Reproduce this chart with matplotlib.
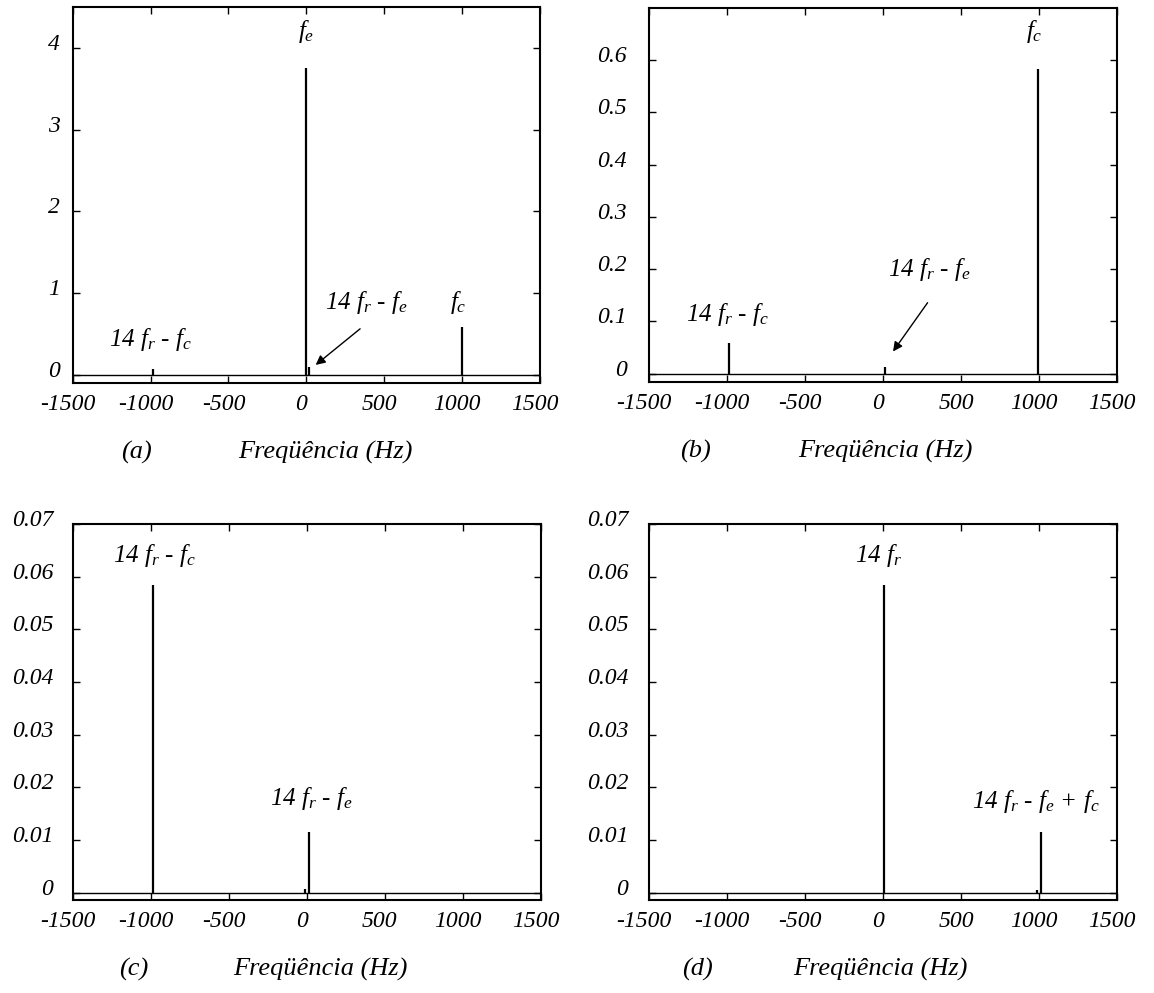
import matplotlib
matplotlib.use("Agg")
import matplotlib.pyplot as plt
import matplotlib.transforms as mtransforms
import numpy as np

plt.rcParams['font.family'] = 'Liberation Serif'
plt.rcParams['font.style'] = 'italic'
plt.rcParams['mathtext.fontset'] = 'custom'
plt.rcParams['mathtext.it'] = 'Liberation Serif:italic'
plt.rcParams['mathtext.rm'] = 'Liberation Serif:italic'

# espectros (frequencia em Hz, amplitude)
freq_a = [-984, -1, 15, 998]
amp_a = [0.07, 3.76, 0.1, 0.587]
freq_b = [-984, 15, 995]
amp_b = [0.059, 0.0127, 0.582]
freq_c = [-984, -13, 11]
amp_c = [0.0584, 0.0006, 0.0115]
freq_d = [9, 989, 1012]
amp_d = [0.0584, 0.0005, 0.0115]

xticks = [-1500, -1000, -500, 0, 500, 1000, 1500]
yticks_a = [0, 1, 2, 3, 4]
yticks_b = [0, 0.1, 0.2, 0.3, 0.4, 0.5, 0.6]
yticks_cd = [0, 0.01, 0.02, 0.03, 0.04, 0.05, 0.06, 0.07]
ylabels_a = ['0', '1', '2', '3', '4']
ylabels_b = ['0', '0.1', '0.2', '0.3', '0.4', '0.5', '0.6']
ylabels_cd = ['0', '0.01', '0.02', '0.03', '0.04', '0.05', '0.06', '0.07']

W, H = 1154, 993
fig = plt.figure(figsize=(W / 100, H / 100), dpi=100)


def caixa(x0, y0, x1, y1):
    return [x0 / W, 1 - y1 / H, (x1 - x0) / W, (y1 - y0) / H]


axes = [
    fig.add_axes(caixa(72.7, 7.3, 540, 383)),
    fig.add_axes(caixa(649, 7.7, 1117, 382)),
    fig.add_axes(caixa(72.7, 524, 541, 900)),
    fig.add_axes(caixa(649, 524, 1117, 900)),
]
dados = [(freq_a, amp_a), (freq_b, amp_b), (freq_c, amp_c), (freq_d, amp_d)]
ylims = [(-0.1, 4.5), (-0.016, 0.70), (-0.0014, 0.07), (-0.0014, 0.07)]
yt = [(yticks_a, ylabels_a), (yticks_b, ylabels_b), (yticks_cd, ylabels_cd), (yticks_cd, ylabels_cd)]
pads = [9.0, 16, 14, 15]
letras = ['(a)', '(b)', '(c)', '(d)']
letra_x = [0.136, 0.099, 0.13, 0.103]
freq_x = [0.54, 0.506, 0.529, 0.494]

for i, ax in enumerate(axes):
    f, a = dados[i]
    ax.vlines(f, 0, a, color='k', lw=1.6)
    ax.axhline(0, color='k', lw=1.0)
    ax.set_xlim(-1500, 1500)
    ax.set_ylim(*ylims[i])
    ax.set_xticks(xticks)
    ax.set_xticklabels([str(t) for t in xticks])
    ax.set_yticks(yt[i][0])
    ax.set_yticklabels(yt[i][1])
    ax.tick_params(direction='in', top=True, right=True, length=5, width=1,
                   labelsize=17)
    ax.tick_params(axis='x', pad=8)
    ax.tick_params(axis='y', pad=pads[i])
    for s in ax.spines.values():
        s.set_linewidth(1.5)
    off = mtransforms.ScaledTranslation(0, 6 / 100, fig.dpi_scale_trans)
    for lb in ax.get_yticklabels():
        lb.set_transform(lb.get_transform() + off)
    offx = mtransforms.ScaledTranslation(-5 / 100, 0, fig.dpi_scale_trans)
    for lb in ax.get_xticklabels():
        lb.set_transform(lb.get_transform() + offx)
    ax.text(letra_x[i], -0.185, letras[i], transform=ax.transAxes,
            ha='center', va='center', fontsize=19)
    ax.text(freq_x[i], -0.185, 'Freqüência (Hz)', transform=ax.transAxes,
            ha='center', va='center', fontsize=19)

fs = 18
ax = axes[0]
ax.text(0, 4.2, r'$f_e$', ha='center', va='center', fontsize=fs)
ax.text(-998, 0.43, r'14 $f_r$ - $f_c$', ha='center', va='center', fontsize=fs)
ax.text(385, 0.89, r'14 $f_r$ - $f_e$', ha='center', va='center', fontsize=fs)
ax.text(975, 0.89, r'$f_c$', ha='center', va='center', fontsize=fs)
ax.annotate('', xy=(46, 0.10), xytext=(359, 0.585),
            arrowprops=dict(arrowstyle='-|>', color='k', lw=1, mutation_scale=14))

ax = axes[1]
ax.text(969, 0.655, r'$f_c$', ha='center', va='center', fontsize=fs)
ax.text(-995, 0.114, r'14 $f_r$ - $f_c$', ha='center', va='center', fontsize=fs)
ax.text(300, 0.2, r'14 $f_r$ - $f_e$', ha='center', va='center', fontsize=fs)
ax.annotate('', xy=(54, 0.038), xytext=(296, 0.14),
            arrowprops=dict(arrowstyle='-|>', color='k', lw=1, mutation_scale=14))

ax = axes[2]
ax.text(-974, 0.0641, r'14 $f_r$ - $f_c$', ha='center', va='center', fontsize=fs)
ax.text(32, 0.0179, r'14 $f_r$ - $f_e$', ha='center', va='center', fontsize=fs)

ax = axes[3]
ax.text(-28, 0.0641, r'14 $f_r$', ha='center', va='center', fontsize=fs)
ax.text(980, 0.0173, r'14 $f_r$ - $f_e$ + $f_c$', ha='center', va='center', fontsize=fs)

fig.savefig('out.png', dpi=100)
